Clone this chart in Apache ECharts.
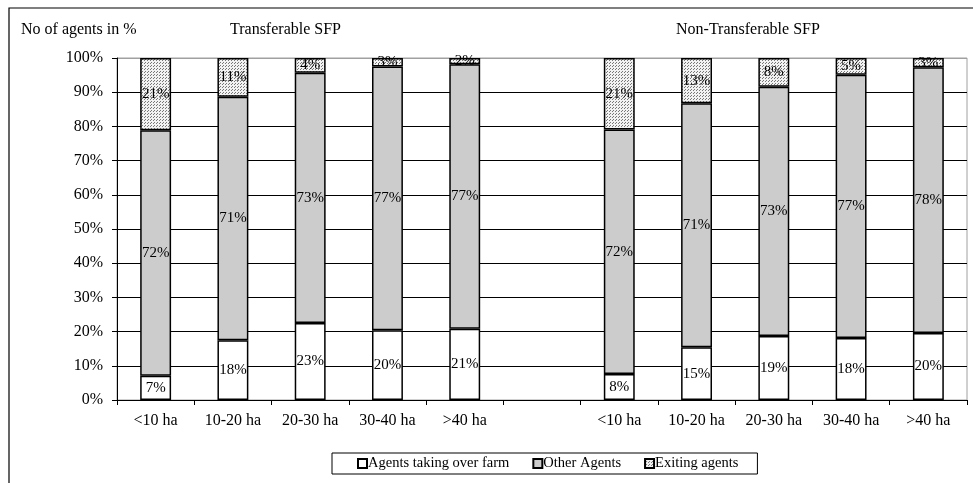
<!DOCTYPE html>
<html>
<head>
<meta charset="utf-8">
<script src="https://cdn.jsdelivr.net/npm/echarts@6/dist/echarts.min.js"></script>
<style>
html,body{margin:0;padding:0;background:#fff;}
#chart{width:973px;height:483px;}
</style>
</head>
<body>
<div id="chart"></div>
<script>
// ---- data ----
const sizeClasses = ['<10 ha', '10-20 ha', '20-30 ha', '30-40 ha', '>40 ha'];
const seriesNames = ['Agents taking over farm', 'Other Agents', 'Exiting agents'];
const tTaking  = [7.1, 17.5, 22.5, 20.4, 20.8];
const tOther   = [71.8, 71.2, 73.2, 77.1, 77.4];
const tExiting = [21.1, 11.3, 4.3, 2.5, 1.8];
const nTaking  = [7.6, 15.4, 18.7, 18.1, 19.6];
const nOther   = [71.5, 71.4, 72.9, 77.0, 77.7];
const nExiting = [20.9, 13.2, 8.4, 4.9, 2.7];
const yTicks = [0, 10, 20, 30, 40, 50, 60, 70, 80, 90, 100];

// combined category axis: group 1, empty gap, group 2
const categories = sizeClasses.concat([''], sizeClasses);
const join = (a, b) => a.concat([null], b);
const taking = join(tTaking, nTaking);
const other = join(tOther, nOther);
const exiting = join(tExiting, nExiting);

// dotted pattern for exiting agents
const pc = document.createElement('canvas');
pc.width = 3; pc.height = 3;
const pctx = pc.getContext('2d');
pctx.fillStyle = '#f2f2f2';
pctx.fillRect(0, 0, 3, 3);
pctx.fillStyle = '#777777';
pctx.fillRect(0, 0, 1, 1);
pctx.fillRect(1, 2, 1, 1);

const FONT = 'Liberation Serif';
const labelCfg = {
  show: true, position: 'inside', color: '#000',
  fontFamily: FONT, fontSize: 15,
  formatter: p => (p.value == null ? '' : Math.round(p.value) + '%')
};
const fills = ['#ffffff', '#cccccc', {image: pc, repeat: 'repeat'}];
const values = [taking, other, exiting];
const titleStyle = {fontFamily: FONT, fontSize: 16, fontWeight: 'normal', color: '#000'};

const chart = echarts.init(document.getElementById('chart'), null, {renderer: 'canvas'});
chart.setOption({
  animation: false,
  backgroundColor: '#fff',
  textStyle: {fontFamily: FONT},
  graphic: [{
    type: 'polyline',
    shape: {points: [[9, 483], [9, 8], [973, 8]]},
    style: {stroke: '#000', lineWidth: 1.2, fill: null},
    silent: true
  }],
  title: [
    {text: 'No of agents in %', left: 16, top: 17, textStyle: titleStyle},
    {text: 'Transferable SFP', left: 225, top: 17, textStyle: titleStyle},
    {text: 'Non-Transferable SFP', left: 671, top: 17, textStyle: titleStyle}
  ],
  legend: {
    data: seriesNames,
    left: 332, top: 453,
    padding: [3, 19, 3, 25],
    borderColor: '#000', borderWidth: 1,
    itemWidth: 9, itemHeight: 9, itemGap: 23,
    icon: 'rect',
    textStyle: {fontFamily: FONT, fontSize: 14.5, color: '#000', padding: [0, 0, 0, -4]}
  },
  grid: {left: 117, right: 6, top: 58, bottom: 83, show: true, borderColor: '#a0a0a0', borderWidth: 1},
  xAxis: {
    type: 'category',
    data: categories,
    axisLine: {lineStyle: {color: '#000', width: 1}},
    axisTick: {show: true, interval: 0, length: 5, lineStyle: {color: '#000'}},
    axisLabel: {interval: 0, color: '#000', fontFamily: FONT, fontSize: 16, margin: 13}
  },
  yAxis: {
    type: 'value', min: yTicks[0], max: yTicks[yTicks.length - 1], interval: 10,
    axisLine: {show: true, lineStyle: {color: '#000', width: 1}},
    axisTick: {show: true, length: 5, lineStyle: {color: '#000'}},
    axisLabel: {color: '#000', fontFamily: FONT, fontSize: 16, margin: 14, formatter: '{value}%'},
    splitLine: {lineStyle: {color: ['#000','#000','#000','#000','#000','#000','#000','#000','#000','#000','#a0a0a0'], width: 1}}
  },
  series: seriesNames.map((name, i) => ({
    name: name,
    type: 'bar',
    stack: 'total',
    barWidth: '40%',
    data: values[i],
    itemStyle: {color: fills[i], borderColor: '#000', borderWidth: 1.5},
    label: labelCfg
  }))
});
</script>
</body>
</html>
